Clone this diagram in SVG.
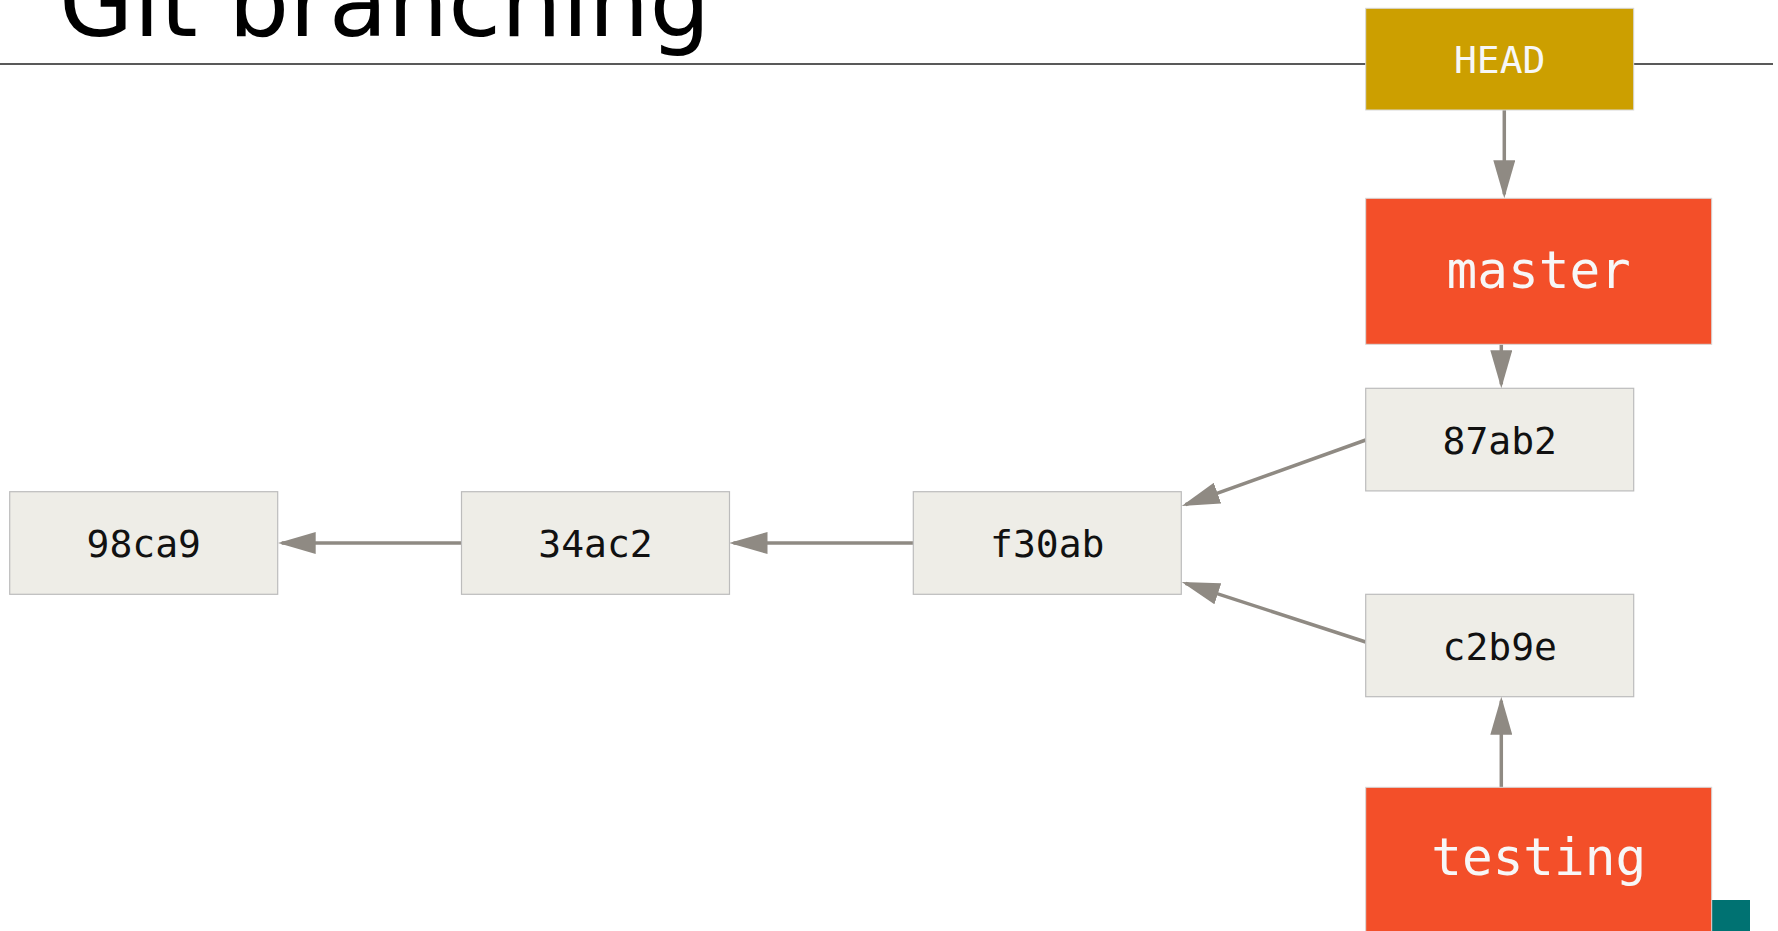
<svg xmlns="http://www.w3.org/2000/svg" width="1778" height="931" viewBox="0 0 1778 931">
<defs>
<style>
.commit rect{fill:#eeede7;stroke:#bcbcbc;stroke-width:1.2}
.commit text{font-family:"DejaVu Sans Mono","Liberation Mono",monospace;font-size:38px;fill:#111;text-anchor:middle}
.branch rect{fill:#f34f29;stroke:#d8d8d8;stroke-width:1}
.branch text{font-family:"DejaVu Sans Mono","Liberation Mono",monospace;font-size:51px;fill:#f7f7f7;text-anchor:middle}
.head rect{fill:#cc9f00;stroke:#d8d8d8;stroke-width:1}
.head text{font-family:"DejaVu Sans Mono","Liberation Mono",monospace;font-size:38px;fill:#f7f7f7;text-anchor:middle}
.edge{stroke:#8f8a83;stroke-width:3.5;fill:none;marker-end:url(#arr)}
</style>
<marker id="arr" viewBox="0 0 38 22" markerWidth="38" markerHeight="22" refX="34" refY="11" markerUnits="userSpaceOnUse" orient="auto">
<path d="M0,0 L38,11 L0,22 z" fill="#8f8a83"/>
</marker>
</defs>
<rect x="0" y="0" width="1778" height="931" fill="#ffffff"/>
<text x="59" y="36" font-family="DejaVu Sans, Verdana, sans-serif" font-size="96" fill="#000">Git branching</text>
<line x1="0" y1="64" x2="1773" y2="64" stroke="#222" stroke-width="1.5"/>
<rect x="1711.7" y="900" width="38.3" height="40" fill="#007272"/>
<g id="connectors">
<path class="edge" d="M1504.3,110 L1504.3,194.3"/>
<path class="edge" d="M1501.3,344.3 L1501.3,384.3"/>
<path class="edge" d="M1501.3,787.3 L1501.3,700.7"/>
<path class="edge" d="M1365.7,440 L1185.5,504.6"/>
<path class="edge" d="M1365.7,642 L1185.5,583.3"/>
<path class="edge" d="M913.3,543 L733.5,543"/>
<path class="edge" d="M461.5,543 L281.7,543"/>
</g>
<g id="node-98ca9" class="commit"><rect x="9.7" y="491.7" width="268" height="102.6"/><text x="143.7" y="556.5">98ca9</text></g>
<g id="node-34ac2" class="commit"><rect x="461.5" y="491.7" width="268" height="102.6"/><text x="595.5" y="556.5">34ac2</text></g>
<g id="node-f30ab" class="commit"><rect x="913.3" y="491.7" width="268" height="102.6"/><text x="1047.3" y="556.5">f30ab</text></g>
<g id="node-87ab2" class="commit"><rect x="1365.7" y="388.3" width="268" height="102.6"/><text x="1499.7" y="453.5">87ab2</text></g>
<g id="node-c2b9e" class="commit"><rect x="1365.7" y="594.3" width="268" height="102.4"/><text x="1499.7" y="659.5">c2b9e</text></g>
<g id="node-HEAD" class="head"><rect x="1365.7" y="8.3" width="268" height="101.7"/><text x="1499.7" y="73">HEAD</text></g>
<g id="node-master" class="branch"><rect x="1365.7" y="198.3" width="346" height="146"/><text x="1538.7" y="288">master</text></g>
<g id="node-testing" class="branch"><rect x="1365.7" y="787.3" width="346" height="160"/><text x="1538.7" y="875">testing</text></g>
</svg>
